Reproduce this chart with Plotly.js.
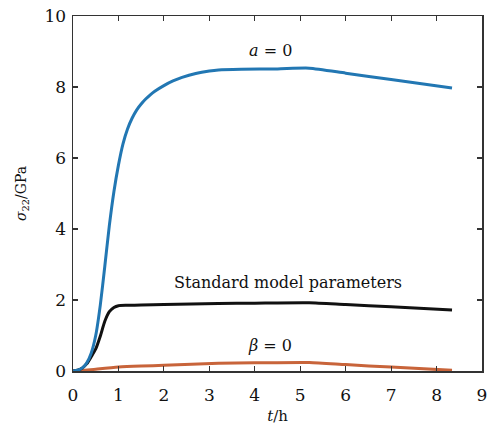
<!DOCTYPE html>
<html>
<head>
<meta charset="utf-8">
<script src="https://cdn.plot.ly/plotly-3.0.1.min.js"></script>
<style>html,body{margin:0;padding:0;background:#fff;}#chart{width:487px;height:432px;}</style>
</head>
<body>
<div id="chart"></div>
<script>
// Data
const tAlpha = [0,0.1,0.2,0.3,0.4,0.5,0.6,0.7,0.8,0.9,1.0,1.1,1.2,1.3,1.4,1.5,1.6,1.7,1.8,2.0,2.2,2.4,2.7,3.0,3.2,3.7,4.5,5.2,6.0,7.0,8.34];
const sAlpha = [0,0.02,0.08,0.22,0.5,1.0,1.85,2.95,4.1,5.05,5.8,6.4,6.82,7.12,7.35,7.52,7.66,7.78,7.88,8.04,8.17,8.27,8.38,8.45,8.48,8.5,8.51,8.53,8.39,8.21,7.97];
const tStd = [0,0.1,0.2,0.3,0.4,0.5,0.6,0.7,0.8,0.9,1.0,1.2,1.5,2.0,3.2,4.0,5.2,6.0,7.0,8.34];
const sStd = [0,0.02,0.08,0.2,0.4,0.62,0.98,1.4,1.67,1.79,1.84,1.85,1.86,1.87,1.9,1.91,1.92,1.87,1.81,1.72];
const tBeta = [0,0.2,0.5,1.0,1.5,2.0,3.2,4.0,5.2,6.0,7.0,8.34];
const sBeta = [0,0.01,0.05,0.11,0.14,0.16,0.22,0.23,0.24,0.18,0.11,0.02];
const xTicks = [0,1,2,3,4,5,6,7,8,9];
const yTicks = [0,2,4,6,8,10];
const labels = [
  {x:4.34, y:9.04, text:'<i>a</i> = 0'},
  {x:4.73, y:2.48, text:'Standard model parameters'},
  {x:4.34, y:0.73, text:'<i>β</i> = 0'}
];

const font = 'DejaVu Serif';
const traces = [
  {x:tBeta, y:sBeta, mode:'lines', line:{color:'#c8643a', width:3, shape:'spline', smoothing:0.6}},
  {x:tStd, y:sStd, mode:'lines', line:{color:'#111111', width:3, shape:'spline', smoothing:0.6}},
  {x:tAlpha, y:sAlpha, mode:'lines', line:{color:'#2277b3', width:3, shape:'spline', smoothing:0.6}}
];
const axisCommon = {
  showgrid:false, zeroline:false, showline:true, linecolor:'#333', linewidth:1.5,
  ticks:'inside', ticklen:5, tickwidth:1.2, tickcolor:'#333', mirror:'ticks',
  ticklabeloverflow:'allow',
  tickfont:{family:font, size:17, color:'#111'}
};
const layout = {
  width:487, height:432,
  margin:{l:73, r:5, t:16, b:61},
  paper_bgcolor:'#fff', plot_bgcolor:'#fff',
  showlegend:false,
  font:{family:font, color:'#111'},
  xaxis:Object.assign({}, axisCommon, {range:[0,9], tickvals:xTicks, ticktext:xTicks.map(String),
    ticklabelstandoff:8,
    title:{text:'<i>t</i>/h', font:{family:font, size:15, color:'#111'}, standoff:6}}),
  yaxis:Object.assign({}, axisCommon, {range:[0,10], tickvals:yTicks, ticktext:yTicks.map(String),
    ticklabelstandoff:2,
    title:{text:'<i>σ</i><sub>22</sub>/GPa', font:{family:font, size:14, color:'#111'}, standoff:14}}),
  annotations: labels.map(l => ({x:l.x, y:l.y, xref:'x', yref:'y', text:l.text, showarrow:false,
    font:{family:font, size:16, color:'#111'}}))
};
Plotly.newPlot('chart', traces, layout, {staticPlot:true, displayModeBar:false});
</script>
</body>
</html>
